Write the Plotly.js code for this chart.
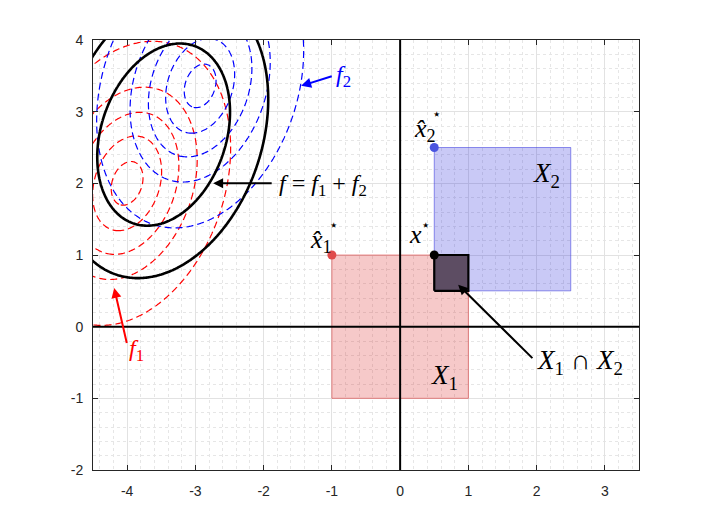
<!DOCTYPE html>
<html>
<head>
<meta charset="utf-8">
<script src="https://cdn.plot.ly/plotly-3.0.1.min.js"></script>
<style>body{margin:0;background:#fff}#chart{width:706px;height:530px}</style>
</head>
<body>
<div id="chart"></div>
<script>
// ---- data ----
// quadratic contour families: centre (x,y) and shared Hessian [[a,b],[b,c]]
const center1 = [-4.0, 2.0];      // f1 (red)
const center2 = [-2.93, 3.36];    // f2 (blue)
const hess = [16.67, -3.15, 9.76]; // a, b, c
const levels1 = [0.85, 4, 9, 16.5, 36];
const levels2 = [0.85, 4, 9, 16.5, 36];
const levelsSum = [43.6, 87.5];
// sets
const X1x = [-1, 1, 1, -1, -1];
const X1y = [-1, -1, 1, 1, -1];
const X2x = [0.5, 2.5, 2.5, 0.5, 0.5];
const X2y = [0.5, 0.5, 2.5, 2.5, 0.5];
const Ix = [0.5, 1, 1, 0.5, 0.5];
const Iy = [0.5, 0.5, 1, 1, 0.5];
// points
const ptNames = ['x1hat', 'x2hat', 'xstar'];
const ptX = [-1, 0.5, 0.5];
const ptY = [1, 2.5, 1];
const ptColors = ['#e04b4b', '#4a55e0', '#000000'];
const xTicks = [-4, -3, -2, -1, 0, 1, 2, 3];
const yTicks = [-2, -1, 0, 1, 2, 3, 4];

// ---- grid for contours ----
const gx = [], gy = [];
for (let i = 0; i <= 240; i++) gx.push(-4.8 + i * 0.02);
for (let j = 0; j <= 260; j++) gy.push(-0.8 + j * 0.02);
function quad(c) {
  const z = [];
  for (let j = 0; j < gy.length; j++) {
    const row = [];
    const dy = gy[j] - c[1];
    for (let i = 0; i < gx.length; i++) {
      const dx = gx[i] - c[0];
      row.push(hess[0] * dx * dx + 2 * hess[1] * dx * dy + hess[2] * dy * dy);
    }
    z.push(row);
  }
  return z;
}
const z1 = quad(center1), z2 = quad(center2);
const zs = z1.map((r, j) => r.map((v, i) => v + z2[j][i]));

const traces = [];
function addContours(z, levels, color, width, dash) {
  levels.forEach(L => {
    traces.push({
      type: 'contour', x: gx, y: gy, z: z,
      autocontour: false,
      contours: {start: L, end: L, size: 1, coloring: 'lines', showlabels: false},
      line: {color: color, width: width, dash: dash, smoothing: 1.3},
      colorscale: [[0, color], [1, color]],
      showscale: false, hoverinfo: 'skip'
    });
  });
}
addContours(z1, levels1, '#ff0000', 1.2, '7px,4px');
addContours(z2, levels2, '#0000ff', 1.2, '7px,4px');
addContours(zs, levelsSum, '#000000', 2.6, 'solid');

traces.push({x: X1x, y: X1y, mode: 'lines', fill: 'toself', fillcolor: 'rgba(220,40,40,0.25)',
  line: {color: 'rgba(220,40,40,0.5)', width: 1}, hoverinfo: 'skip'});
traces.push({x: X2x, y: X2y, mode: 'lines', fill: 'toself', fillcolor: 'rgba(40,40,220,0.25)',
  line: {color: 'rgba(40,40,220,0.5)', width: 1}, hoverinfo: 'skip'});
traces.push({x: Ix, y: Iy, mode: 'lines', fill: 'toself', fillcolor: '#5d4d63',
  line: {color: '#000000', width: 2.2}, hoverinfo: 'skip'});
traces.push({x: ptX, y: ptY, mode: 'markers', text: ptNames,
  marker: {color: ptColors, size: 9}, hoverinfo: 'skip'});

const serif = "'Liberation Serif', 'Times New Roman', 'DejaVu Serif', serif";
function arrow(x, y, ax, ay, color) {
  return {x: x, y: y, ax: ax, ay: ay, xref: 'x', yref: 'y', axref: 'x', ayref: 'y',
    text: '', showarrow: true, arrowhead: 2, arrowsize: 1, arrowwidth: 2,
    arrowcolor: color, standoff: 0, startstandoff: 0};
}
function label(x, y, text, size, color, xanchor) {
  return {x: x, y: y, xref: 'x', yref: 'y', text: text, showarrow: false,
    xanchor: xanchor || 'center', yanchor: 'middle',
    font: {family: serif, size: size, color: color || '#000'}};
}
const sp = '\u2005';
const annotations = [
  arrow(-1.45, 3.36, -0.98, 3.50, '#0000ff'),
  label(-0.97, 3.50, '<i>f</i><sub>2</sub>', 24, '#0000ff', 'left'),
  arrow(-2.74, 2.0, -1.86, 2.0, '#000000'),
  label(-1.80, 1.98, '<i>f</i>' + sp + '=' + sp + '<i>f</i><sub>1</sub>' + sp + '+' + sp + '<i>f</i><sub>2</sub>', 24, '#000', 'left'),
  arrow(-4.19, 0.54, -4.0, -0.25, '#ff0000'),
  label(-4.0, -0.32, '<i>f</i><sub>1</sub>', 24, '#ff0000', 'left'),
  arrow(0.85, 0.586, 1.96, -0.46, '#000000'),
  label(1.98, -0.49, '<i>X</i><sub>1</sub>' + sp + '∩' + sp + '<i>X</i><sub>2</sub>', 27, '#000', 'left'),
  label(2.15, 2.12, '<i>X</i><sub>2</sub>', 27),
  label(0.645, -0.70, '<i>X</i><sub>1</sub>', 27),
  label(-1.16, 1.20, '<i>x̂</i><sub>1</sub>', 26),
  label(-0.98, 1.42, '⋆', 15),
  label(0.36, 2.75, '<i>x̂</i><sub>2</sub>', 26),
  label(0.53, 2.97, '⋆', 15),
  label(0.22, 1.29, '<i>x</i>', 26),
  label(0.37, 1.42, '⋆', 15)
];

const axisCommon = {
  showgrid: true, gridcolor: '#e2e2e2', gridwidth: 1,
  zeroline: false, showline: true, linecolor: '#262626', linewidth: 1,
  mirror: 'ticks', ticks: 'inside', ticklen: 5, tickcolor: '#262626',
  tickfont: {family: "'Liberation Sans', Arial, sans-serif", size: 14, color: '#262626'},
  minor: {dtick: 0.2, showgrid: true, gridcolor: '#e6e6e6', griddash: 'dot', gridwidth: 1},
  fixedrange: true
};
const layout = {
  width: 706, height: 530,
  margin: {l: 93, r: 67, t: 40, b: 60},
  paper_bgcolor: '#ffffff', plot_bgcolor: '#ffffff',
  showlegend: false,
  xaxis: Object.assign({}, axisCommon, {range: [-4.5, 3.5], tickvals: xTicks, ticktext: xTicks.map(String), ticklabelstandoff: 8}),
  yaxis: Object.assign({}, axisCommon, {range: [-2, 4], tickvals: yTicks, ticktext: yTicks.map(String), ticklabelstandoff: 6}),
  shapes: [
    {type: 'line', xref: 'x', yref: 'paper', x0: 0, x1: 0, y0: 0, y1: 1, line: {color: '#000', width: 2}, layer: 'above'},
    {type: 'line', xref: 'paper', yref: 'y', x0: 0, x1: 1, y0: 0, y1: 0, line: {color: '#000', width: 2}, layer: 'above'}
  ],
  annotations: annotations
};
Plotly.newPlot('chart', traces, layout, {staticPlot: true, displayModeBar: false});
</script>
</body>
</html>
